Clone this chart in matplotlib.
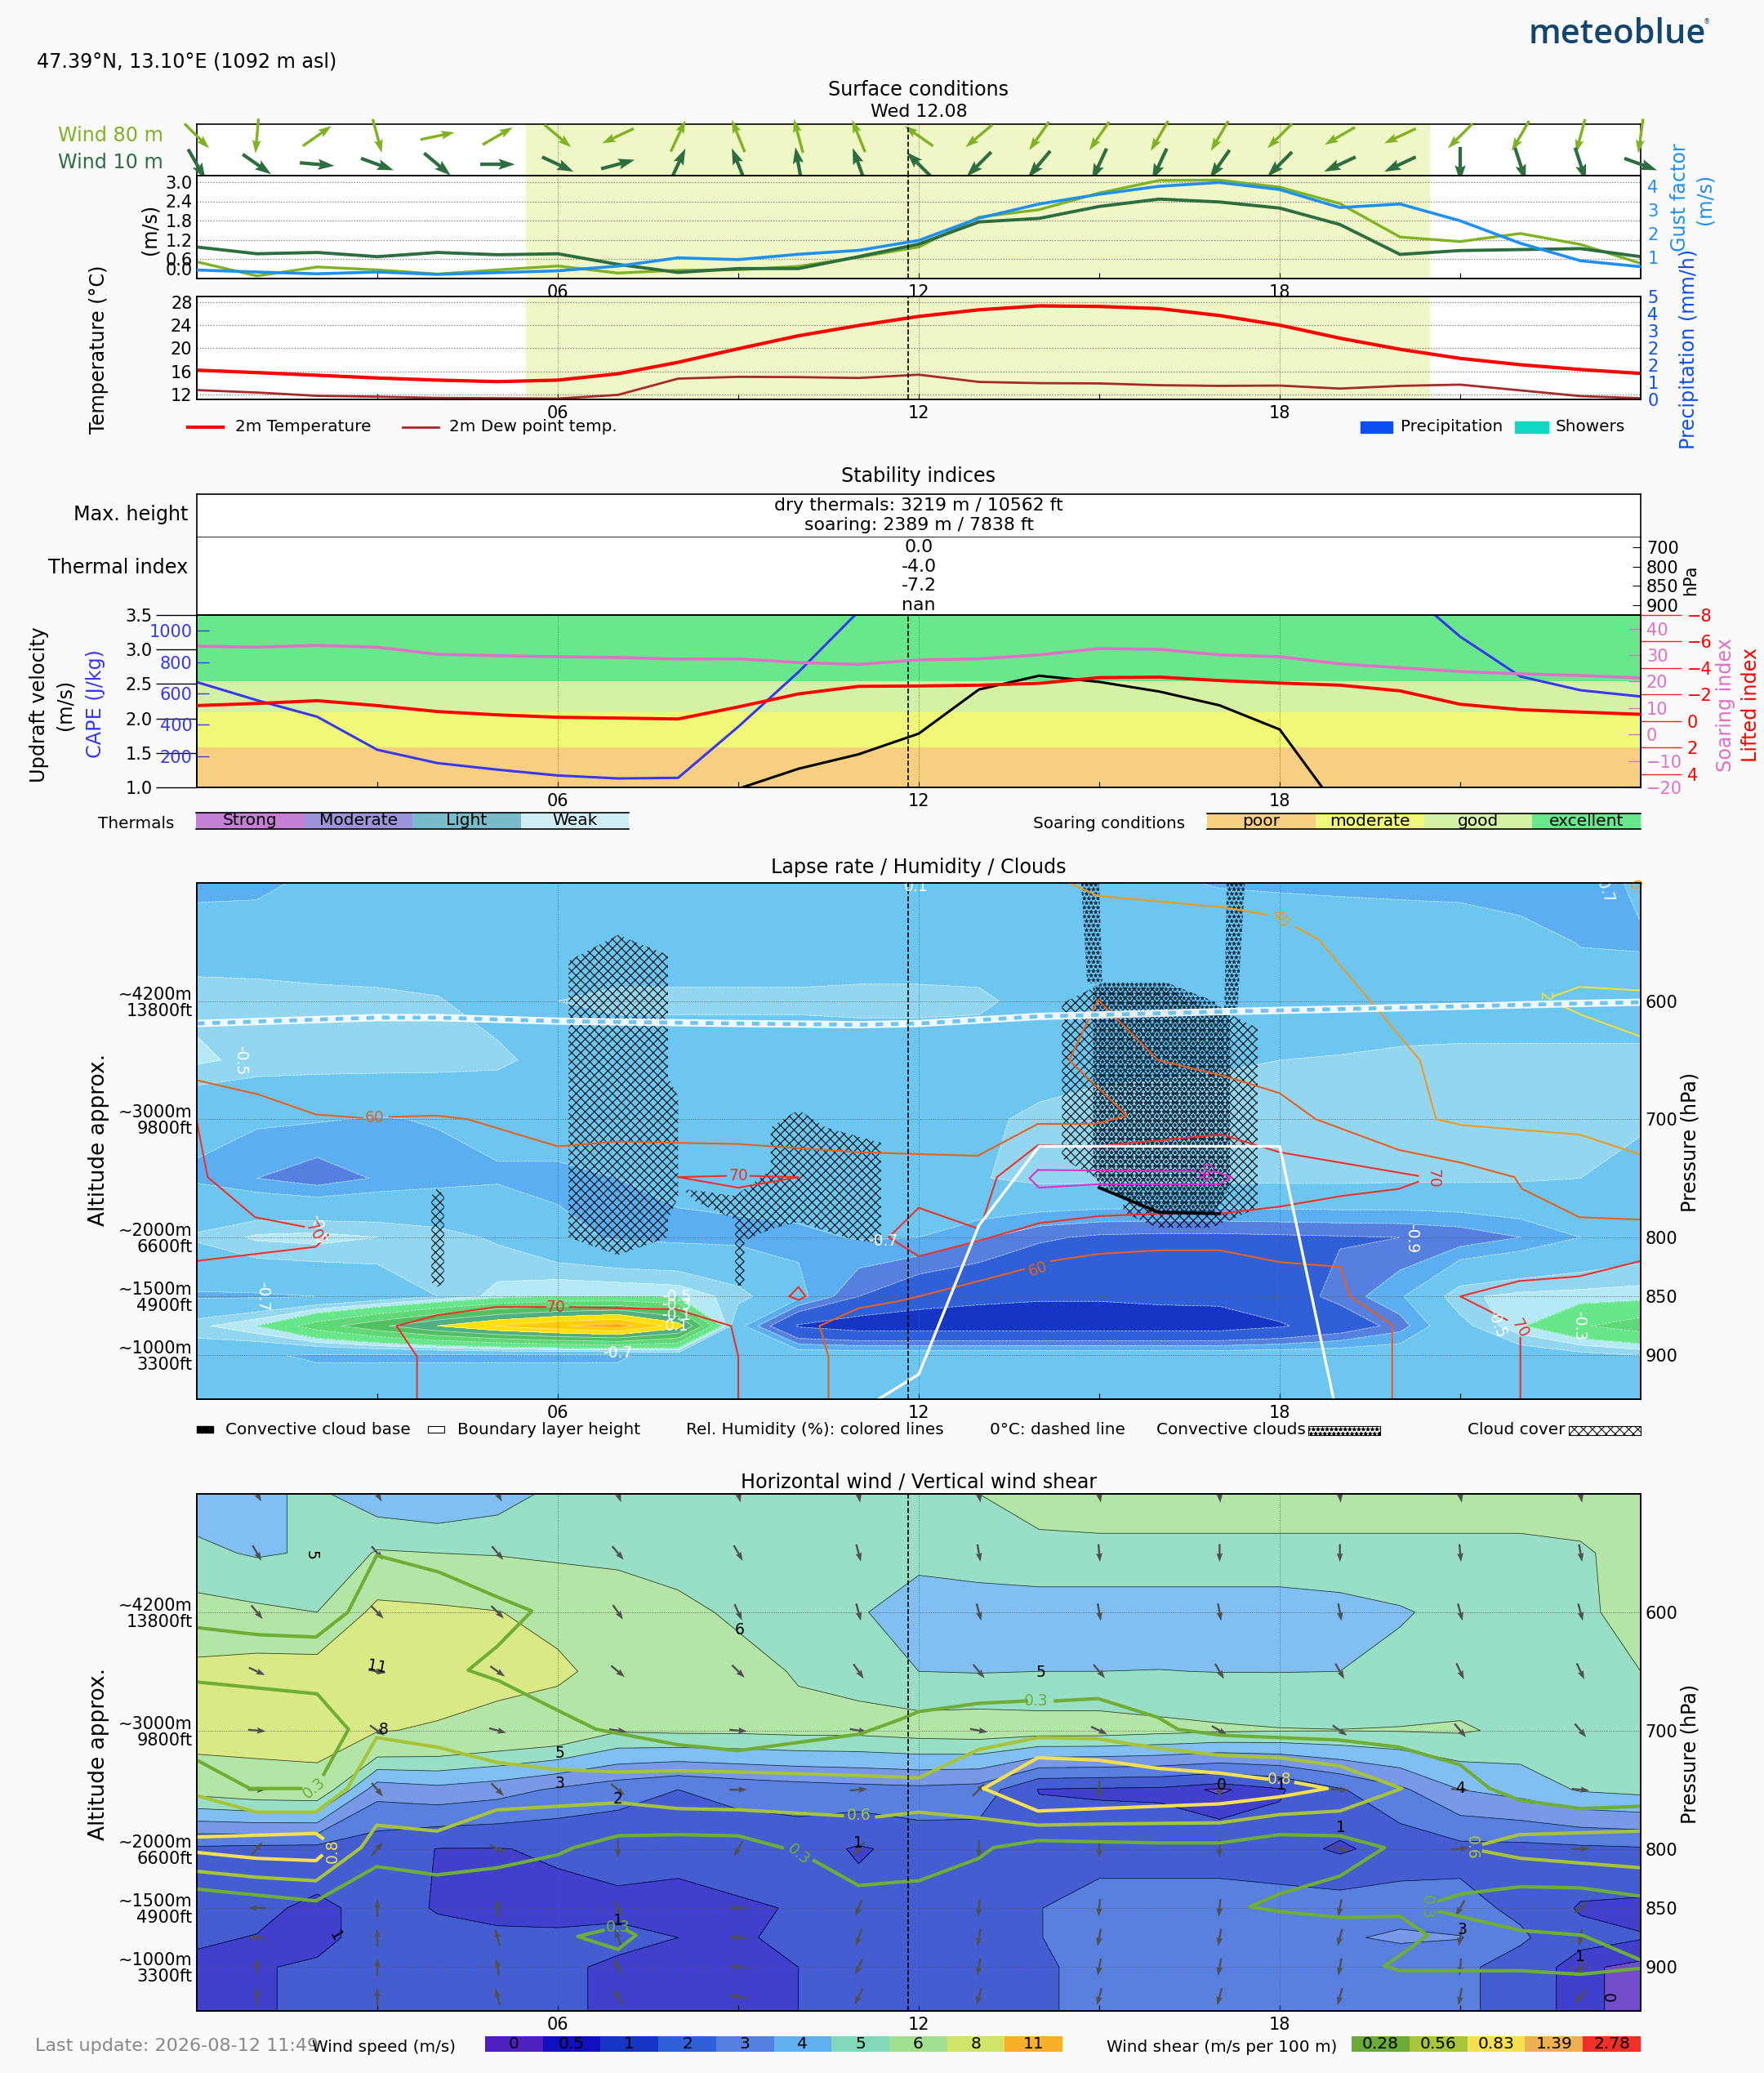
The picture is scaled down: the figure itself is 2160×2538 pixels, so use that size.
"""meteoblue style soaring meteogram, 4 stacked blocks on one hourly time axis."""
import matplotlib
matplotlib.use('Agg')

import numpy as np
import matplotlib.pyplot as plt
from matplotlib.patches import Polygon, Rectangle

W, H = 2160, 2538
BG = '#fafafa'
matplotlib.rcParams.update({
    'font.family': 'DejaVu Sans', 'font.size': 15,
    'hatch.linewidth': 0.75, 'axes.linewidth': 1.2,
})
TITLE_FS, LABEL_FS, LEG_FS = 17.2, 17.2, 14.4

HOURS = np.arange(25)
HPA_ROWS = [500, 550, 600, 650, 700, 750, 800, 850, 875, 900, 937]
NOW = 11.82

# ---- surface conditions
DIR_80M = [-45, -95, 35, -75, 12, 30, -40, 205, 65, 112, 105, 112, 145, 220, 235, 235, 240, 240, 225,
           210, 205, 225, 240, 255, 262]
DIR_10M = [-60, -35, -5, -20, -40, 0, -25, 15, 65, 112, 100, 110, 135, 225, 230, 245, 245, 235, 225,
           205, 205, -90, -72, -72, -20]
WIND_10M = [.98, .77, .81, .68, .81, .74, .77, .44, .19, .31, .31, .68, 1.07, 1.76, 1.87, 2.24, 2.47,
            2.38, 2.19, 1.68, .75, .87, .90, .93, .68]
WIND_80M = [.52, .08, .36, .27, .14, .27, .39, .17, .26, .27, .38, .66, .98, 1.91, 2.14, 2.66, 3.05,
            3.06, 2.84, 2.33, 1.29, 1.15, 1.40, 1.06, .47]
GUST = [.46, .375, .30, .375, .275, .35, .425, .625, .975, .90, 1.125, 1.29, 1.71, 2.65, 3.25, 3.66,
        4.0, 4.16, 3.86, 3.10, 3.25, 2.54, 1.59, .85, .60]
TEMP_2M = [16.22, 15.80, 15.34, 14.87, 14.50, 14.24, 14.50, 15.60, 17.58, 19.92, 22.16, 23.93, 25.50,
           26.64, 27.32, 27.22, 26.85, 25.65, 23.99, 21.74, 19.82, 18.25, 17.16, 16.33, 15.65]
DEW_2M = [12.78, 12.36, 11.79, 11.64, 11.43, 11.37, 11.32, 11.95, 14.76, 15.07, 15.02, 14.87, 15.44,
          14.19, 13.98, 13.93, 13.62, 13.51, 13.56, 13.04, 13.51, 13.72, 12.73, 11.74, 11.37]

# ---- stability indices
UPDRAFT = [0, 0, 0, 0, 0, 0, 0, 0, .7, .98, 1.27, 1.48, 1.78, 2.42, 2.62, 2.53, 2.39, 2.19, 1.84, .65,
           0, 0, 0, 0, 0]
LIFTED = [-1.17, -1.33, -1.54, -1.17, -.72, -.47, -.29, -.23, -.16, -1.07, -2.05, -2.62, -2.65, -2.71,
          -2.85, -3.28, -3.32, -3.06, -2.87, -2.71, -2.28, -1.27, -.86, -.68, -.51]
SOARING = [33.4, 33.0, 33.7, 33.0, 30.3, 29.8, 29.4, 29.1, 28.5, 28.6, 27.2, 26.5, 28.2, 28.6, 30.1,
           32.5, 32.2, 30.1, 29.4, 26.7, 25.2, 23.8, 22.9, 22.3, 21.4]
CAPE = [672, 556, 451, 240, 155, 113, 76, 57, 61, 387, 736, 1123, 1400, 1600, 1700, 1800, 1800, 1750,
        1700, 1500, 1290, 962, 708, 620, 580]
SOAR_EDGES = [1.0, 1.585, 2.085, 2.545, 3.5]
SOAR_COLORS = ['#f7cf80', '#f0f878', '#d5f1a5', '#68e88a']
SOAR_NAMES = ['poor', 'moderate', 'good', 'excellent']
THERM_COLORS = ['#c57fd5', '#9c94d8', '#78bccb', '#d0edf5']
THERM_NAMES = ['Strong', 'Moderate', 'Light', 'Weak']
THERMAL_INDEX = ['0.0', '-4.0', '-7.2', 'nan']
THERMAL_HPA = ['700', '800', '850', '900']

# ---- lapse rate field, one row per pressure level
LAPSE = [
    [-.75, -.74, -.66, -.6, -.6, -.6, -.6, -.6, -.6, -.6, -.6, -.6, -.6, -.6, -.6, -.6, -.68, -.71, -.72,
     -.73, -.74, -.75, -.8, -.8, -.66],
    [-.6, -.6, -.6, -.6, -.6, -.6, -.6, -.6, -.6, -.6, -.6, -.6, -.6, -.6, -.6, -.6, -.6, -.6, -.6, -.6,
     -.6, -.6, -.62, -.71, -.72],
    [-.43, -.44, -.46, -.47, -.49, -.56, -.5, -.47, -.47, -.47, -.47, -.46, -.46, -.47, -.56, -.6, -.6,
     -.6, -.6, -.6, -.6, -.6, -.6, -.6, -.6],
    [-.38, -.43, -.44, -.44, -.45, -.47, -.56, -.6, -.6, -.6, -.6, -.6, -.6, -.6, -.55, -.53, -.52, -.51,
     -.5, -.49, -.47, -.46, -.46, -.46, -.46],
    [-.66, -.68, -.69, -.71, -.69, -.65, -.6, -.6, -.6, -.6, -.6, -.6, -.58, -.52, -.48, -.46, -.46, -.46,
     -.46, -.46, -.46, -.46, -.46, -.46, -.48],
    [-.72, -.8, -.86, -.79, -.75, -.72, -.74, -.7, -.66, -.63, -.6, -.6, -.58, -.51, -.46, -.46, -.46,
     -.46, -.46, -.46, -.47, -.47, -.48, -.5, -.55],
    [-.48, -.38, -.36, -.4, -.45, -.52, -.65, -.72, -.74, -.74, -.73, -.69, -.7, -.78, -.88, -.92, -.93,
     -.93, -.92, -.91, -.9, -.87, -.8, -.7, -.62],
    [-.72, -.72, -.7, -.62, -.5, -.36, -.3, -.3, -.32, -.45, -.66, -.9, -1.02, -1.06, -1.08, -1.08, -1.06,
     -1.05, -.98, -.86, -.72, -.42, -.37, -.36, -.35],
    [-.43, -.3, 0, .25, .5, .72, .88, 1.0, .6, -.65, -1.12, -1.2, -1.2, -1.2, -1.2, -1.2, -1.2, -1.2,
     -1.12, -1.0, -.85, -.55, -.32, -.12, 0],
    [-.6, -.68, -.72, -.72, -.72, -.72, -.72, -.72, -.62, -.6, -.6, -.6, -.6, -.6, -.6, -.6, -.6, -.6,
     -.6, -.6, -.6, -.6, -.6, -.55, -.5],
    [-.6, -.6, -.6, -.6, -.6, -.6, -.6, -.6, -.6, -.6, -.6, -.6, -.6, -.6, -.6, -.6, -.6, -.6, -.6, -.6,
     -.6, -.6, -.6, -.6, -.6],
]
LAPSE_LEVELS = [-1.3, -1.1, -.9, -.8, -.7, -.5, -.4, -.3, -.1, .1, .3, .5, .7, .9, 1.2]
LAPSE_COLORS = ['#1535c5', '#3060d8', '#5580e0', '#5baeef', '#6cc6ef', '#92d6f0', '#b5e9f5', '#68e68c',
                '#5fd878', '#50c060', '#50b080', '#ffe000', '#ffcc00', '#ffa800']

# relative humidity isolines (hour, hPa), nan where the label sits
RH60_A_H = [0, 1.02, 1.98, 2.75, np.nan, 3.2, 3.99, 4.5, 6, 6.97, 9, 11, 12.98, 13.98, 14.93, 15.46, 14.5,
            14.98, 15.98, 17.12, 18, 18.6, 19.98, 21.03, 21.9, 22.03, 22.98, 24]
RH60_A_P = [667, 679, 696, 699, np.nan, 698, 697, 700, 723, 719, 721, 728, 731, 704, 704, 697, 650, 599,
            650, 664, 678, 700, 726, 737, 749, 759, 783, 785]
RH60_B_H = [10.5, 10.5, 10.35, 11, 11.67, 12, 13, 13.75, np.nan, 14.2, 15, 16, 17, 18, 19, 19.17, 19.87, 19.87]
RH60_B_P = [938, 901, 875, 860, 854, 850, 837, 827, np.nan, 820, 814, 811, 811, 821, 825, 850, 874, 938]
RH70_A_H = [0, .18, .97, 1.78]
RH70_A_P = [702, 749, 783, 791]
RH70_B_H = [2.18, 1.98, 0]
RH70_B_P = [798, 808, 820]
RH70_C_H = [3.66, 3.66, 3.32, 3.99, 4.97, 5.8, np.nan, 6.2, 7.97, 8.88, 9, 9]
RH70_C_P = [938, 901, 875, 866, 859, 859, np.nan, 859, 861, 875, 901, 938]
RH70_D_H = [8, 8.8, np.nan, 9.2, 10, 9, 8]
RH70_D_P = [749, 748, np.nan, 748, 749, 758, 749]
RH70_E_H = [9.85, 10, 10.12, 10, 9.85]
RH70_E_P = [850, 842, 850, 853, 850]
RH70_F_H = [12.95, 12, 11.5, 12, 13, 14, 15, 16, 17, 18, 19.03, 19.98, 20.3]
RH70_F_P = [792, 775, 800, 816, 803, 788, 782, 780, 780, 774, 765, 759, 753]
RH70_G_H = [20.3, 18, 17.03, 15.98, 14.93, 13.98, 13.3, 13.07]
RH70_G_P = [748, 728, 713, 718, 723, 722, 749, 785]
RH70_H_H = [24, 22.98, 21.98, 21, 21.78, np.nan, 22, 22]
RH70_H_P = [820, 833, 837, 850, 870, np.nan, 885, 938]
RH80_H = [13.98, 13.84, 14, 14.98, 17, 17.2, 16.9, np.nan, 16.6, 13.98]
RH80_P = [743, 750, 758, 755, 755, 749, 744, np.nan, 744, 743]
RH40_H = [14.5, 14.98, 17.12, 17.79, np.nan, 18.25, 18.65, 20.33, 20.6, 21.03, 22.98, 24]
RH40_P = [500, 511, 521, 527, np.nan, 537, 548, 650, 700, 705, 713, 730]
RH20_A_H = [22.55, 22.98, 24]
RH20_A_P = [596, 588, 591]
RH20_B_H = [22.6, 23.03, 24]
RH20_B_P = [602, 612, 630]
FREEZE_H = [0, 3, 4, 6, 9, 11, 12, 14, 17, 19.7, 23, 24]
FREEZE_P = [619, 614, 614, 617, 619, 620, 619, 613, 609, 606, 602, 601]
BLH_H = [11.0, 11.33, 12, 13, 14, 18, 18.9]
BLH_P = [950, 937, 916, 790, 723, 723, 938]
CLOUD_BASE_H = [15, 16, 17]
CLOUD_BASE_P = [758, 779, 780]

# cloud cover and convective cloud areas
CLOUD_AREAS = [
    ([6.18, 7, 7.83, 7.83, 8, 8, 7.83, 7.83, 7, 6.18], [566, 544, 561, 664, 681, 766, 785, 800, 815, 800]),
    ([8.07, 8.95, 9.54, 9.54, 10, 10.45, 11.37, 11.37, 10.9, 10, 9.54, 9.1, 9.1, 8.95, 8.95, 8.3],
     [759, 765, 743, 707, 692, 707, 720, 805, 802, 787, 793, 803, 841, 841, 785, 770]),
    ([4, 4.11, 4.11, 4, 3.9, 3.9], [758, 765, 838, 842, 838, 765]),
    ([14.38, 14.93, 16.08, 16.74, 17.2, 17.63, 17.63, 17.2, 16.84, 15.98, 15.4, 15.4, 14.93, 14.38],
     [602, 588, 588, 604, 612, 623, 775, 785, 792, 792, 779, 766, 749, 733]),
]
STAR_AREAS = [
    ([14.9, 15.1, 16.1, 16.9, 17.17, 17.17, 16.9, 15.9, 15.0, 14.9], [588, 584, 584, 600, 612, 758, 780, 780, 758, 740]),
    ([14.7, 15.0, 15.05, 14.8], [500, 500, 585, 585]),
    ([17.12, 17.42, 17.3, 17.08], [500, 500, 605, 610]),
]
LAPSE_NOTES = [(.73, 650, '-0.5', -90, 'w'), (1.1, 850, '-0.7', -90, 'w'), (2.0, 793, '-0.5', -80, 'w'),
               (7.0, 898, '-0.7', 0, 'w'), (7.97, 850, '-0.5', 0, 'w'), (7.97, 857, '-0.3', 0, 'w'),
               (7.97, 866, '-0.1', 0, 'w'), (7.97, 875, '0.1', 0, 'w'), (11.4, 803, '-0.7', 0, 'w'),
               (20.2, 801, '-0.9', -90, 'w'), (22.98, 875, '-0.3', -90, 'w'), (21.6, 873, '-0.5', -70, 'w'),
               (23.4, 505, '-0.7', -70, 'w'), (23.9, 504, '0.', -70, '#ee9a22'), (11.95, 503, '0.1', 0, 'w'),
               (2.95, 699, '60', 0, '#e8601e'), (1.95, 795, '70', -60, '#f03028'), (5.97, 859, '70', 0, '#f03028'),
               (9.0, 748, '70', 0, '#f03028'), (20.55, 750, '70', -90, '#f03028'), (22.0, 877, '70', -60, '#f03028'),
               (13.98, 827, '60', 20, '#e8601e'), (18.0, 530, '40', -50, '#ee9a22'), (16.8, 744, '80', 60, '#e030c8'),
               (22.4, 596, '2', -90, '#f0e040')]

# ---- horizontal wind speed field (m/s)
SPEED = [
    [4.5, 4.8, 5.2, 4.3, 4.0, 4.5, 5.3, 5.5, 5.5, 5.5, 5.5, 5.5, 5.5, 6.0, 6.3, 6.4, 6.4, 6.4, 6.4, 6.4,
     6.4, 6.4, 6.4, 6.4, 6.4],
    [5.2, 4.9, 5.1, 6.1, 6.0, 5.9, 5.7, 5.6, 5.5, 5.4, 5.4, 5.3, 5.3, 5.6, 5.8, 5.8, 5.8, 5.8, 5.8, 5.8,
     5.8, 5.8, 5.8, 5.9, 6.3],
    [6.4, 6.2, 6.0, 8.5, 8.3, 8.05, 7.5, 7.0, 6.3, 5.8, 5.6, 5.1, 4.5, 4.4, 4.4, 4.4, 4.4, 4.4, 4.4, 4.6,
     4.9, 5.3, 5.6, 5.9, 6.2],
    [8.5, 8.8, 8.8, 11.1, 9.0, 8.6, 8.3, 7.4, 6.8, 6.4, 5.9, 5.7, 5.0, 4.95, 5.0, 5.0, 5.02, 4.98, 4.98,
     5.0, 5.3, 5.5, 5.6, 5.9, 6.0],
    [9.0, 9.0, 9.2, 8.1, 7.8, 7.4, 7.1, 6.1, 6.2, 6.2, 6.3, 6.3, 6.5, 6.6, 6.5, 6.5, 6.3, 6.15, 6.05, 6.02,
     6.05, 6.1, 5.8, 5.7, 5.6],
    [6.5, 6.9, 7.0, 3.4, 3.7, 3.4, 2.85, 2.4, 2.0, 2.3, 2.5, 2.65, 2.75, 2.6, .95, .85, .8, .4, .9, 1.9,
     2.8, 4.0, 4.4, 5.1, 5.3],
    [1.8, 1.7, 1.65, 1.4, .98, .97, 1.1, 1.25, 1.2, 1.4, 1.4, .9, 1.3, 1.4, 1.6, 1.7, 1.7, 1.6, 1.4, .85,
     1.4, 1.7, 1.7, 1.8, 1.9],
    [1.5, 1.2, .8, 1.3, .95, .85, .8, .85, .8, .9, 1.05, 1.3, 1.4, 1.7, 1.98, 2.3, 2.3, 2.4, 2.4, 2.5, 2.5,
     2.3, 1.8, .9, .8],
    [1.1, .97, .8, 1.3, 1.2, 1.1, 1.1, 1.15, 1.0, .9, 1.2, 1.4, 1.5, 1.7, 1.98, 2.3, 2.4, 2.4, 2.5, 2.85,
     3.2, 3.05, 2.15, 1.3, 1.05],
    [.85, .95, 1.1, 1.2, 1.2, 1.15, 1.1, .9, .85, .85, 1.0, 1.3, 1.5, 1.8, 1.9, 2.2, 2.2, 2.2, 2.2, 2.2,
     2.2, 2.2, 1.6, .6, .35],
    [.85, .95, 1.1, 1.2, 1.2, 1.15, 1.1, .9, .85, .85, 1.0, 1.3, 1.5, 1.8, 1.9, 2.2, 2.2, 2.2, 2.2, 2.2,
     2.2, 2.2, 1.6, .6, .35],
]
SPEED_LEVELS = [0, .5, 1, 2, 3, 4, 5, 6, 8, 11, 20]
SPEED_COLORS = ['#4f20c0', '#1010c0', '#1535c5', '#3060d8', '#5580e0', '#62b0f0', '#80d8b8', '#a0e090',
                '#d0e468', '#f8b028']
SPEED_NAMES = ['0', '0.5', '1', '2', '3', '4', '5', '6', '8', '11']
SHEAR_COLORS = ['#6aac35', '#a8c63a', '#f5e050', '#eeb050', '#f03028']
SHEAR_NAMES = ['0.28', '0.56', '0.83', '1.39', '2.78']

ARROW_HOURS = [1, 3, 5, 7, 9, 11, 13, 15, 17, 19, 21, 23]
ARROW_HPA = [500, 550, 600, 650, 700, 750, 800, 850, 875, 900, 925]
ARROW_DIR = [
    [-60, -60, -60, -70, -75, -80, -80, -80, -85, -85, -80, -80],
    [-60, -50, -50, -50, -60, -75, -80, -85, -90, -90, -85, -80],
    [-50, -45, -45, -55, -65, -75, -75, -80, -80, -80, -75, -75],
    [-25, -10, -35, -40, -45, -55, -50, -50, -60, -60, -65, -65],
    [-5, -35, -15, -8, -5, -10, -10, -25, -30, -35, -50, -50],
    [0, -50, -45, -40, 0, 5, 45, -90, -90, -3, -5, -5],
    [50, 50, -25, -90, -120, -130, -90, -90, -90, -20, 5, 0],
    [180, 90, 90, -60, 180, -110, -95, -95, -95, -100, -120, -140],
    [180, 90, 105, 110, 175, -110, -100, -100, -100, -105, -100, -100],
    [90, 90, 100, 120, 175, -115, -100, -100, -100, -100, -95, -110],
    [90, 90, 105, 125, 170, -115, -105, -105, -105, -105, -100, -130],
]

# shear isolines (hour, hPa): 0.3 / 0.6 / 0.8 m/s per 100 m
S03_A_H = [0, 1.02, 1.98, 2.51, 2.99, 4.02, 4.99, 5.57, 4.99, 4.51, 5.02, 6, 6.64, 8, 9, 11.02, 11.67, 12, 13,
           13.79, np.nan, 14.27, 14.98, 15.98, 16.31, 17.03, 18.98, 19.98, 21, 21.49, 22, 23, 24]
S03_A_P = [613, 619, 621, 600, 552, 566, 587, 599, 629, 649, 658, 683, 699, 712, 717, 703, 691, 684, 677,
           675, np.nan, 675, 673, 689, 699, 704, 708, 714, 729, 749, 759, 766, 764]
S03_B_H = [0, 2, 2.52, 2.11, np.nan, 1.73, .88, 0]
S03_B_P = [659, 669, 699, 737, np.nan, 749, 749, 725]
S03_C_H = [0, 1.98, 2.99, 3.99, 4.99, 6, 6.26, 7, 8, 9, 9.73, np.nan, 10.26, 11, 11.67, 12, 13, 13.24, 13.98,
           14.98, 15.98, 17, 18, 19, 19.74, 19, 18, 17.5, 18, 19, 20, 20.46, 20, 19.74, 20, 21, 22, 23, 24]
S03_C_P = [834, 844, 815, 822, 816, 805, 799, 789, 788, 789, 799, np.nan, 810, 831, 828, 827, 808, 799, 793,
           794, 795, 795, 788, 789, 799, 823, 838, 849, 853, 858, 857, 873, 890, 899, 903, 903, 903, 906, 901]
S03_D_H = [20.65, 21.03, 22, 23, 24]
S03_D_P = [844, 838, 832, 833, 840]
S03_E_H = [20.65, 22, 23.03, 24]
S03_E_P = [853, 869, 873, 894]
S03_F_H = [6.75, 6.33, 7, 7.3, 7.15]
S03_F_P = [869, 874, 885, 873, 869]
S06_A_H = [0, .99, 1.98, 2.5, 2.99, 3.99, 4.99, 6, 7, 8, 9, 11, 12, 13, 13.98, 14.98, 15.98, 17, 18, 19, 20.03,
           19, 18, 17, 14.98, 13.98, 13, 12, 11.3, np.nan, 10.73, 9, 8, 7.02, 6, 4.99, 3.99, 2.99, 2.73, 1.98, .99, 0]
S06_A_P = [755, 769, 769, 749, 706, 714, 727, 733, 735, 734, 735, 738, 740, 716, 706, 707, 715, 721, 723, 730,
           749, 768, 771, 778, 779, 780, 774, 769, 773, np.nan, 772, 767, 766, 761, 764, 767, 785, 780, 799, 827, 824, 819]
S06_B_H = [21.39, 21.98, 24]
S06_B_P = [796, 788, 785]
S06_C_H = [21.39, 22, 24]
S06_C_P = [802, 808, 816]
S08_A_H = [0, 1.98, 2.09]
S08_A_P = [790, 787, 791]
S08_B_H = [0, .99, 1.98, 2.07]
S08_B_P = [803, 808, 810, 806]
S08_C_H = [13.08, 13.98, 14.98, 15.98, 17, 17.79, np.nan, 18.27, 18.79, 18, 17, 14.98, 13.98, 13.08]
S08_C_P = [749, 723, 725, 732, 736, 741, np.nan, 744, 749, 756, 762, 766, 768, 749]
WIND_NOTES = [(1.9, 552, '5', -90, 'k'), (9.02, 615, '6', 0, 'k'), (2.99, 646, '11', -10, 'k'), (3.1, 699, '8', 0, 'k'),
              (6.03, 719, '5', 0, 'k'), (6.03, 745, '3', 0, 'k'), (7, 758, '2', 0, 'k'), (11, 795, '1', 0, 'k'),
              (7, 861, '1', 0, 'k'), (2.3, 874, '1', -60, 'k'), (14.03, 651, '5', 0, 'k'), (21, 749, '4', 0, 'k'),
              (18.03, 746, '1', 0, 'k'), (17.03, 746, '0', 0, 'k'), (19.02, 782, '1', 0, 'k'), (21.03, 868, '3', 0, 'k'),
              (23, 891, '1', 0, 'k'), (23.45, 926, '0', -90, 'k'),
              (1.95, 749, '0.3', 40, '#6fae35'), (2.25, 802, '0.8', 90, '#f5e050'), (13.95, 675, '0.3', 0, '#6fae35'),
              (11, 772, '0.6', 0, '#a5c438'), (10, 805, '0.3', -40, '#6fae35'), (7, 866, '0.3', 0, '#6fae35'),
              (18, 741, '0.8', 0, '#f5e050'), (21.2, 799, '0.6', -90, '#a5c438'), (20.45, 849, '0.3', -90, '#6fae35')]


def add_ax(x0, y0, x1, y1, **kw):
    return plt.gcf().add_axes([x0 / W, 1 - y1 / H, (x1 - x0) / W, (y1 - y0) / H], **kw)


def ftext(x, y, s, **kw):
    kw.setdefault('ha', 'center')
    kw.setdefault('va', 'center')
    plt.gcf().text(x / W, 1 - y / H, s, **kw)


def time_axis(ax, labels=True):
    ax.set_xlim(0, 24)
    ax.set_xticks([3, 6, 9, 12, 15, 18, 21])
    ax.set_xticklabels(['', '06', '', '12', '', '18', ''] if labels else [''] * 7)
    ax.tick_params(axis='x', direction='in', length=5, width=.8, pad=5)
    for h in (6, 12, 18):
        ax.axvline(h, color='0.35', lw=.6, ls=':', zorder=4)
    ax.axvline(NOW, color='k', lw=1.2, ls='--', zorder=6)


def cell_legend(x0, y0, x1, y1, names, colors, frame=False, alpha=1):
    ax = add_ax(x0, y0, x1, y1)
    for i, (name, c) in enumerate(zip(names, colors)):
        ax.bar(i, 1, width=1, align='edge', color=c, alpha=alpha)
        ax.text(i + .5, .5, name, ha='center', va='center', fontsize=14.5)
    ax.set_xlim(0, len(names))
    ax.set_ylim(0, 1)
    ax.set_xticks([])
    ax.set_yticks([])
    for side, sp in ax.spines.items():
        sp.set_visible(frame and side in ('top', 'bottom'))


def pressure_axis(ax):
    ax.set_ylim(937, 500)
    ax.set_yticks([600, 700, 800, 850, 900])
    ax.set_yticklabels(['~4200m\n13800ft', '~3000m\n9800ft', '~2000m\n6600ft', '~1500m\n4900ft', '~1000m\n3300ft'],
                       ha='right', linespacing=1.0)
    ax.tick_params(axis='y', length=0, pad=4)
    ax.grid(axis='y', color='0.35', lw=.6, ls=':', zorder=4)
    ax.set_axisbelow(False)
    rx = ax.twinx()
    rx.set_ylim(937, 500)
    rx.set_yticks([600, 700, 800, 850, 900])
    rx.tick_params(axis='y', length=0, pad=4)
    return rx


def notes(ax, items, size=13.5):
    for h, p, s, rot, c in items:
        ax.text(h, p, s, color=c, rotation=rot, fontsize=size, ha='center', va='center',
                rotation_mode='anchor', zorder=7)


fig = plt.figure(figsize=(W / 100, H / 100), dpi=100, facecolor=BG)

ftext(45, 76, '47.39°N, 13.10°E (1092 m asl)', ha='left', fontsize=17.2)
ftext(1980, 42, 'meteoblue', family='Open Sans', weight='semibold', fontsize=30, color='#14456e')
ftext(2090, 27, '®', fontsize=6, color='#14456e')
ftext(1125, 110, 'Surface conditions', fontsize=TITLE_FS)
ftext(1125, 137, 'Wed 12.08', fontsize=15.9)

# wind arrows strip
ax = add_ax(241, 152, 2009, 215)
ax.axvspan(5.47, 20.5, color='#eff7c6', lw=0)
time_axis(ax, labels=False)
ax.set_ylim(0, 1)
ax.set_yticks([])
ax.tick_params(axis='x', length=0)
for level, dirs, c, w in [(.77, DIR_80M, '#7fb321', .034), (.22, DIR_10M, '#2c6e3f', .042)]:
    a = np.radians(dirs)
    q = ax.quiver(HOURS, np.full(25, level), np.cos(a), np.sin(a), color=c, pivot='mid', angles='uv',
                  scale_units='inches', scale=2.35, units='inches', width=w, headwidth=3.2, headlength=4.8,
                  headaxislength=4.2, zorder=5)
    q.set_clip_on(False)
ftext(200, 166, 'Wind 80 m', ha='right', color='#7fb321', fontsize=LABEL_FS)
ftext(200, 199, 'Wind 10 m', ha='right', color='#2c6e3f', fontsize=LABEL_FS)

# wind speed lines
ax = add_ax(241, 215, 2009, 341)
ax.axvspan(5.47, 20.5, color='#eff7c6', lw=0)
time_axis(ax)
ax.set_ylim(0.02, 3.2)
ax.set_yticks([0, .6, 1.2, 1.8, 2.4, 3.0])
ax.set_yticklabels(['0.0', '0.6', '1.2', '1.8', '2.4', '3.0'])
ax.get_yticklabels()[0].set_va('bottom')
ax.tick_params(axis='y', length=0, pad=4)
ax.grid(axis='y', color='0.45', lw=.9, ls=':')
ax.plot(HOURS, WIND_80M, color='#7fb321', lw=2.4, zorder=3)
ax.plot(HOURS, WIND_10M, color='#2c6e3f', lw=2.8, zorder=3)
rx = ax.twinx()
rx.set_ylim(.1, 4.45)
rx.set_yticks([1, 2, 3, 4])
rx.tick_params(axis='y', length=0, pad=6, labelcolor='#2090f0')
rx.plot(HOURS, GUST, color='#2090f0', lw=2.6, zorder=5)
ftext(183, 281, '(m/s)', rotation=90, fontsize=LABEL_FS)
ftext(2057, 242, 'Gust factor', rotation=90, color='#2090f0', fontsize=LABEL_FS)
ftext(2087, 244, '(m/s)', rotation=90, color='#2090f0', fontsize=LABEL_FS)

# temperature
ax = add_ax(241, 363, 2009, 489)
ax.axvspan(5.47, 20.5, color='#eff7c6', lw=0)
time_axis(ax)
ax.set_ylim(11.17, 28.94)
ax.set_yticks([12, 16, 20, 24, 28])
ax.tick_params(axis='y', length=0, pad=4)
ax.grid(axis='y', color='0.45', lw=.9, ls=':')
ax.plot(HOURS, TEMP_2M, color='#ff0000', lw=3, zorder=3)
ax.plot(HOURS, DEW_2M, color='#a52a2a', lw=2, zorder=3)
rx = ax.twinx()
rx.set_ylim(0, 5)
rx.set_yticks(np.linspace(0, 5, 7))
rx.set_yticklabels(['0', '1', '2', '2', '3', '4', '5'])
rx.tick_params(axis='y', length=0, pad=6, labelcolor='#0a50f0')
ftext(121, 428, 'Temperature (°C)', rotation=90, fontsize=LABEL_FS)
ftext(2068, 427, 'Precipitation (mm/h)', rotation=90, color='#0a50f0', fontsize=LABEL_FS)
fig.add_artist(plt.Line2D([230 / W, 273 / W], [1 - 523 / H] * 2, color='#ff0000', lw=3))
ftext(288, 523, '2m Temperature', ha='left', fontsize=LEG_FS)
fig.add_artist(plt.Line2D([493 / W, 537 / W], [1 - 523 / H] * 2, color='#a52a2a', lw=2))
ftext(550, 523, '2m Dew point temp.', ha='left', fontsize=LEG_FS)
fig.add_artist(Rectangle((1666 / W, 1 - 530 / H), 39 / W, 14 / H, color='#0a50f0', transform=fig.transFigure))
ftext(1715, 523, 'Precipitation', ha='left', fontsize=LEG_FS)
fig.add_artist(Rectangle((1855 / W, 1 - 530 / H), 41 / W, 14 / H, color='#10d8c0', transform=fig.transFigure))
ftext(1905, 523, 'Showers', ha='left', fontsize=LEG_FS)

# stability: text strips
ftext(1125, 583, 'Stability indices', fontsize=TITLE_FS)
ax = add_ax(241, 605, 2009, 658)
ax.set_xticks([])
ax.set_yticks([])
ax.text(.5, .73, 'dry thermals: 3219 m / 10562 ft', transform=ax.transAxes, ha='center', va='center', fontsize=15.8)
ax.text(.5, .28, 'soaring: 2389 m / 7838 ft', transform=ax.transAxes, ha='center', va='center', fontsize=15.8)
ftext(230, 630, 'Max. height', ha='right', fontsize=LABEL_FS)

ax = add_ax(241, 658, 2009, 753)
ax.set_xticks([])
ax.set_xlim(0, 24)
ax.set_ylim(3.5, -.5)
ax.spines[['top', 'bottom']].set_visible(False)
for i, s in enumerate(THERMAL_INDEX):
    ax.text(12, i, s, ha='center', va='center', fontsize=15.8)
ax.yaxis.tick_right()
ax.set_yticks(range(4))
ax.set_yticklabels(THERMAL_HPA)
ax.tick_params(axis='y', direction='in', length=7, pad=5)
ftext(230, 695, 'Thermal index', ha='right', fontsize=LABEL_FS)
ftext(2070, 710, 'hPa', rotation=90)

# stability: main plot with 4 scales
ax = add_ax(241, 753, 2009, 964)
for lo, hi, c in zip(SOAR_EDGES[:-1], SOAR_EDGES[1:], SOAR_COLORS):
    ax.axhspan(lo, hi, color=c, lw=0, zorder=0)
time_axis(ax)
ax.set_ylim(1, 3.5)
ax.set_yticks([1, 1.5, 2, 2.5, 3, 3.5])
ax.set_yticklabels(['1.0', '1.5', '2.0', '2.5', '3.0', '3.5'])
ax.tick_params(axis='y', length=36, width=1, pad=3)
ax.plot(HOURS, UPDRAFT, color='k', lw=2.2, zorder=5)
cx = ax.twinx()
cx.yaxis.tick_left()
cx.set_ylim(0, 1100)
cx.set_yticks([200, 400, 600, 800, 1000])
cx.tick_params(axis='y', direction='in', length=11, width=1, color='#3838f0', labelcolor='#3838f0', pad=4)
cx.plot(HOURS, CAPE, color='#3838f0', lw=2.2, zorder=4)
sx = ax.twinx()
sx.set_ylim(-20, 45.15)
sx.set_yticks([-20, -10, 0, 10, 20, 30, 40])
sx.tick_params(axis='y', direction='in', length=11, width=1, color='#e070c8', labelcolor='#e070c8', pad=5)
sx.plot(HOURS, SOARING, color='#e070c8', lw=2.6, zorder=4)
lx = ax.twinx()
lx.set_ylim(5, -8)
lx.set_yticks([-8, -6, -4, -2, 0, 2, 4])
lx.tick_params(axis='y', length=36, width=1, color='#ff2020', labelcolor='#ff0000', pad=5)
lx.plot(HOURS, LIFTED, color='#ff0000', lw=2.8, zorder=4)
ftext(48, 863, 'Updraft velocity', rotation=90, fontsize=LABEL_FS)
ftext(80, 863, '(m/s)', rotation=90, fontsize=LABEL_FS)
ftext(117, 861, 'CAPE (J/kg)', rotation=90, color='#3838f0', fontsize=LABEL_FS)
ftext(2113, 863, 'Soaring index', rotation=90, color='#e070c8', fontsize=LABEL_FS)
ftext(2144, 863, 'Lifted index', rotation=90, color='#ff0000', fontsize=LABEL_FS)
ftext(120, 1008, 'Thermals', fontsize=LEG_FS, ha='left')
ftext(1265, 1008, 'Soaring conditions', fontsize=LEG_FS, ha='left')
cell_legend(240, 995, 770, 1015, THERM_NAMES, THERM_COLORS, frame=True)
cell_legend(1478, 996, 2009, 1015, SOAR_NAMES, SOAR_COLORS, frame=True)

# lapse rate / humidity / clouds
ftext(1125, 1062, 'Lapse rate / Humidity / Clouds', fontsize=TITLE_FS)
ax = add_ax(241, 1081, 2009, 1713)
ax.contourf(HOURS, HPA_ROWS, LAPSE, levels=LAPSE_LEVELS, colors=LAPSE_COLORS, zorder=1)
ax.contour(HOURS, HPA_ROWS, LAPSE, levels=LAPSE_LEVELS, colors='w', linewidths=.6, alpha=.6, zorder=2)
time_axis(ax)
rx = pressure_axis(ax)
for h, p in CLOUD_AREAS:
    ax.add_patch(Polygon(np.column_stack([h, p]), fill=False, hatch='xxx', edgecolor='k', lw=0, zorder=3))
for h, p in STAR_AREAS:
    ax.add_patch(Polygon(np.column_stack([h, p]), fill=False, hatch='***', edgecolor='#14324a', lw=0, zorder=3))
for (h, p, c) in [(RH60_A_H, RH60_A_P, '#e8601e'), (RH60_B_H, RH60_B_P, '#e8601e'), (RH70_A_H, RH70_A_P, '#f03028'),
                  (RH70_B_H, RH70_B_P, '#f03028'), (RH70_C_H, RH70_C_P, '#f03028'), (RH70_D_H, RH70_D_P, '#f03028'),
                  (RH70_E_H, RH70_E_P, '#f03028'), (RH70_F_H, RH70_F_P, '#f03028'), (RH70_G_H, RH70_G_P, '#f03028'),
                  (RH70_H_H, RH70_H_P, '#f03028'), (RH80_H, RH80_P, '#e030c8'), (RH40_H, RH40_P, '#ee9a22'),
                  (RH20_A_H, RH20_A_P, '#f0e040'), (RH20_B_H, RH20_B_P, '#f0e040')]:
    ax.plot(h, p, color=c, lw=1.5, zorder=4)
ax.plot(FREEZE_H, FREEZE_P, color='w', lw=6.4, alpha=.9, zorder=4)
ax.plot(FREEZE_H, FREEZE_P, color='#6cc6ef', lw=3.4, ls=(0, (2, 2)), zorder=4)
ax.plot(BLH_H, BLH_P, color='w', lw=2.4, zorder=5)
ax.plot(CLOUD_BASE_H, CLOUD_BASE_P, color='k', lw=2.6, zorder=5)
notes(ax, LAPSE_NOTES)
ax.set_ylim(937, 500)
ftext(121, 1395, 'Altitude approx.', rotation=90, fontsize=19)
ftext(2069, 1398, 'Pressure (hPa)', rotation=90, fontsize=LABEL_FS)
y = 1750
fig.add_artist(Rectangle((241 / W, 1 - 1754 / H), 20 / W, 8 / H, color='k', transform=fig.transFigure))
ftext(276, y, 'Convective cloud base', ha='left', fontsize=LEG_FS)
fig.add_artist(Rectangle((524 / W, 1 - 1754 / H), 20 / W, 8 / H, fc='w', ec='k', lw=.8, transform=fig.transFigure))
ftext(560, y, 'Boundary layer height', ha='left', fontsize=LEG_FS)
ftext(840, y, 'Rel. Humidity (%): colored lines', ha='left', fontsize=LEG_FS)
ftext(1212, y, '0°C: dashed line', ha='left', fontsize=LEG_FS)
ftext(1416, y + 1, 'Convective clouds', ha='left', fontsize=LEG_FS)
fig.add_artist(Rectangle((1602 / W, 1 - 1757 / H), 88 / W, 11 / H, fc='w', ec='k', lw=.8, hatch='***', transform=fig.transFigure))
ftext(1797, y + 1, 'Cloud cover', ha='left', fontsize=LEG_FS)
fig.add_artist(Rectangle((1921 / W, 1 - 1757 / H), 88 / W, 11 / H, fc='w', ec='k', lw=.8, hatch='xxx', transform=fig.transFigure))

# horizontal wind / shear
ftext(1125, 1815, 'Horizontal wind / Vertical wind shear', fontsize=TITLE_FS)
ax = add_ax(241, 1829, 2009, 2462)
ax.contourf(HOURS, HPA_ROWS, SPEED, levels=SPEED_LEVELS, colors=SPEED_COLORS, alpha=.8, zorder=1)
ax.contour(HOURS, HPA_ROWS, SPEED, levels=SPEED_LEVELS, colors='k', linewidths=.6, alpha=.7, zorder=2)
time_axis(ax)
rx = pressure_axis(ax)
a = np.radians(ARROW_DIR)
ax.quiver(ARROW_HOURS, ARROW_HPA, np.cos(a), np.sin(a), color='#505050', pivot='mid', angles='uv',
          scale_units='inches', scale=4.6, units='inches', width=.024, headwidth=3.2, headlength=4.5,
          headaxislength=4, zorder=3)
for (h, p, c) in [(S03_A_H, S03_A_P, '#6fae35'), (S03_B_H, S03_B_P, '#6fae35'), (S03_C_H, S03_C_P, '#6fae35'),
                  (S03_D_H, S03_D_P, '#6fae35'), (S03_E_H, S03_E_P, '#6fae35'), (S03_F_H, S03_F_P, '#6fae35'),
                  (S06_A_H, S06_A_P, '#a5c438'), (S06_B_H, S06_B_P, '#a5c438'), (S06_C_H, S06_C_P, '#a5c438'),
                  (S08_A_H, S08_A_P, '#f5e050'), (S08_B_H, S08_B_P, '#f5e050'), (S08_C_H, S08_C_P, '#f5e050')]:
    ax.plot(h, p, color=c, lw=3, zorder=4)
notes(ax, WIND_NOTES)
ax.set_ylim(937, 500)
ftext(121, 2147, 'Altitude approx.', rotation=90, fontsize=19)
ftext(2069, 2147, 'Pressure (hPa)', rotation=90, fontsize=LABEL_FS)
ftext(43, 2505, 'Last update: 2026-08-12 11:49', ha='left', color='#888888', fontsize=16)
ftext(382, 2507, 'Wind speed (m/s)', ha='left', fontsize=LEG_FS)
cell_legend(594, 2493, 1301, 2512, SPEED_NAMES, SPEED_COLORS)
ftext(1355, 2507, 'Wind shear (m/s per 100 m)', ha='left', fontsize=LEG_FS)
cell_legend(1655, 2493, 2009, 2512, SHEAR_NAMES, SHEAR_COLORS)

fig.savefig('out.png', dpi=100, facecolor=BG)
